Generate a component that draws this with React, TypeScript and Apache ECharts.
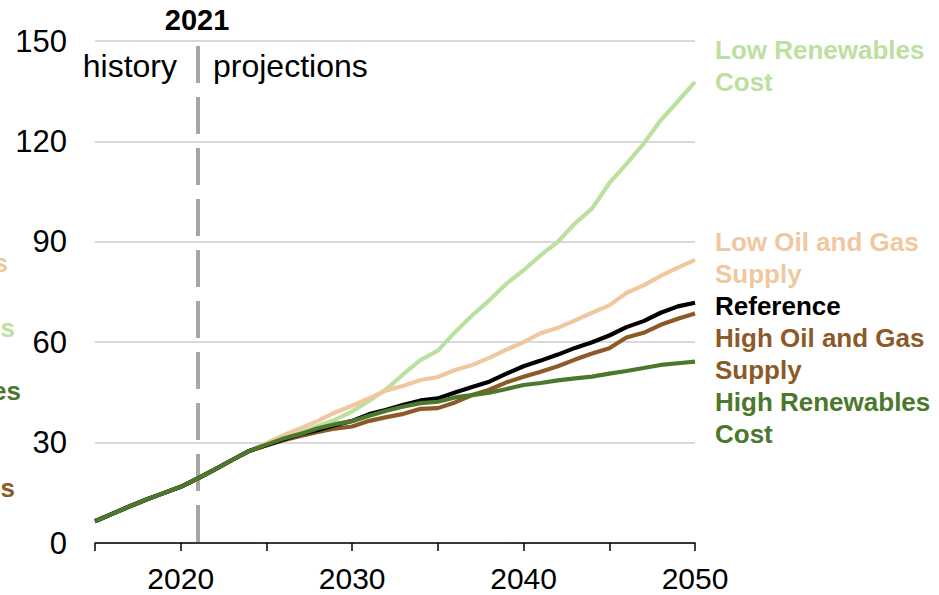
import React, { useEffect, useRef } from "react";
import * as echarts from "echarts";

const years = [
  2015, 2016, 2017, 2018, 2019, 2020, 2021, 2022, 2023, 2024, 2025, 2026,
  2027, 2028, 2029, 2030, 2031, 2032, 2033, 2034, 2035, 2036, 2037, 2038,
  2039, 2040, 2041, 2042, 2043, 2044, 2045, 2046, 2047, 2048, 2049, 2050,
];

// shared history/early values 2015-2024
const history = [6.5, 8.7, 10.9, 13.0, 14.9, 16.8, 19.3, 22.0, 24.8, 27.5];

// scenario values 2025-2050
const lowRenewables = [
  29.3, 31.0, 33.0, 35.0, 36.8, 39.3, 42.5, 46.0, 50.5, 54.7, 57.5, 63.0, 68.0,
  72.5, 77.5, 81.5, 86.0, 90.0, 95.5, 100.0, 107.5, 113.3, 119.3, 126.3, 132.0,
  137.8,
];
const lowOilGas = [
  29.8, 32.2, 34.3, 36.5, 39.0, 41.0, 43.3, 45.6, 47.0, 48.7, 49.6, 51.7, 53.2,
  55.3, 57.8, 60.0, 62.7, 64.3, 66.5, 68.8, 71.0, 74.7, 77.0, 79.8, 82.3, 84.6,
];
const reference = [
  29.2, 30.9, 32.5, 33.8, 35.2, 36.5, 38.5, 39.8, 41.3, 42.6, 43.2, 45.0, 46.6,
  48.2, 50.6, 52.8, 54.5, 56.3, 58.3, 60.0, 62.0, 64.5, 66.3, 68.8, 70.7, 71.8,
];
const highOilGas = [
  29.2, 30.7, 32.0, 33.2, 34.2, 34.8, 36.5, 37.6, 38.6, 40.1, 40.3, 42.0, 44.2,
  45.8, 48.0, 49.7, 51.2, 52.8, 54.8, 56.6, 58.2, 61.4, 62.8, 65.2, 67.0, 68.6,
];
const highRenewables = [
  29.4, 31.2, 32.6, 34.3, 35.5, 36.4, 38.0, 39.5, 40.8, 41.8, 42.2, 43.5, 44.2,
  44.9, 46.0, 47.2, 47.8, 48.6, 49.2, 49.7, 50.6, 51.4, 52.3, 53.2, 53.7, 54.2,
];

const seriesNames = [
  "Low Renewables Cost",
  "Low Oil and Gas Supply",
  "High Oil and Gas Supply",
  "Reference",
  "High Renewables Cost",
];
const seriesValues = [lowRenewables, lowOilGas, highOilGas, reference, highRenewables];
const seriesColors = ["#bddfa0", "#f0c8a0", "#8c5a28", "#000000", "#4b782d"];

const labelLines = [
  ["Low Renewables", "Cost"],
  ["Low Oil and Gas", "Supply"],
  ["Reference"],
  ["High Oil and Gas", "Supply"],
  ["High Renewables", "Cost"],
];
const labelColors = ["#bddfa0", "#f0c8a0", "#000000", "#8c5a28", "#4b782d"];
const labelCenters = [65.5, 258, 306, 354, 418];

// fragments of labels from a neighbouring panel, clipped at the left edge
const cutLabels = ["s", "s", "es", "s"];
const cutColors = ["#f0c8a0", "#bddfa0", "#4b782d", "#8c5a28"];
const cutRight = [8, 15, 21, 15];
const cutY = [262.7, 327.7, 391, 487.7];

const projectionYear = 2021;
const yTicks = { min: 0, max: 150, interval: 30 };

export default function App() {
  const ref = useRef<HTMLDivElement>(null);
  useEffect(() => {
    document.body.style.margin = "0";
    const chart = echarts.init(ref.current!, null, { renderer: "svg" });
    const font = "'Liberation Sans', Arial, sans-serif";
    const series: any[] = seriesNames.map((name, i) => {
      const full = history.concat(seriesValues[i]);
      const s: any = {
        name,
        type: "line",
        data: years.map((y, j) => [y, full[j]]),
        showSymbol: false,
        symbol: "none",
        lineStyle: { color: seriesColors[i], width: 4.2 },
        itemStyle: { color: seriesColors[i] },
        z: 2 + i,
      };
      if (i === 0) {
        s.markLine = {
          silent: true,
          symbol: ["none", "none"],
          label: { show: false },
          lineStyle: { color: "#a6a6a6", width: 4, type: [37, 14] },
          data: [[{ coord: [projectionYear, 148.5] }, { coord: [projectionYear, 0] }]],
          z: 1,
        };
      }
      return s;
    });

    const graphics: any[] = [];
    labelLines.forEach((lines, i) => {
      graphics.push({
        type: "text",
        left: 715,
        top: labelCenters[i] - (lines.length * 32) / 2,
        style: {
          text: lines.join("\n"),
          fill: labelColors[i],
          font: `bold 26px ${font}`,
          lineHeight: 32,
        },
      });
    });
    cutLabels.forEach((t, i) => {
      graphics.push({
        type: "text",
        x: cutRight[i],
        y: cutY[i],
        style: {
          text: t,
          fill: cutColors[i],
          font: `bold 26px ${font}`,
          align: "right",
          verticalAlign: "middle",
        },
      });
    });
    graphics.push(
      {
        type: "text",
        x: 197,
        y: 20,
        style: {
          text: String(projectionYear),
          fill: "#000",
          font: `bold 29px ${font}`,
          align: "center",
          verticalAlign: "middle",
        },
      },
      {
        type: "text",
        x: 177,
        y: 66,
        style: {
          text: "history",
          fill: "#000",
          font: `32px ${font}`,
          align: "right",
          verticalAlign: "middle",
        },
      },
      {
        type: "text",
        x: 213,
        y: 66,
        style: {
          text: "projections",
          fill: "#000",
          font: `32px ${font}`,
          align: "left",
          verticalAlign: "middle",
        },
      }
    );

    chart.setOption({
      animation: false,
      backgroundColor: "#ffffff",
      grid: { left: 95, right: 244, top: 41, bottom: 52, containLabel: false },
      xAxis: {
        type: "value",
        min: 2015,
        max: 2050,
        interval: 5,
        axisLine: { show: true, lineStyle: { color: "#000", width: 1.5 } },
        axisTick: { show: true, length: 8, lineStyle: { color: "#000", width: 1.5 } },
        splitLine: { show: false },
        axisLabel: {
          margin: 20,
          color: "#000",
          fontSize: 30,
          fontFamily: font,
          formatter: (v: number) => (v % 10 === 0 ? String(v) : ""),
        },
      },
      yAxis: {
        type: "value",
        min: yTicks.min,
        max: yTicks.max,
        interval: yTicks.interval,
        axisLine: { show: false },
        axisTick: { show: false },
        splitLine: { show: true, lineStyle: { color: "#d9d9d9", width: 2 } },
        axisLabel: {
          margin: 28,
          color: "#000",
          fontSize: 31,
          fontFamily: font,
        },
      },
      graphic: graphics,
      series,
    });
    return () => chart.dispose();
  }, []);
  return <div ref={ref} style={{ width: 939, height: 595 }} />;
}
